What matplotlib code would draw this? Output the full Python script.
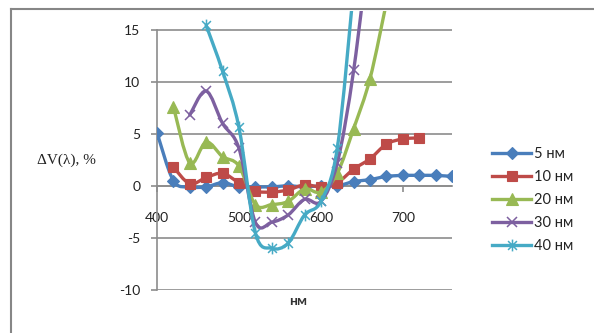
import numpy as np
import matplotlib
matplotlib.use("Agg")
import matplotlib.pyplot as plt
from matplotlib.path import Path
from matplotlib.patches import PathPatch
from matplotlib.lines import Line2D

plt.rcParams["axes.unicode_minus"] = False

# ---- data ----
wl_5 = [400, 420, 440, 460, 480, 500, 520, 540, 560, 580, 600, 620, 640, 660, 680, 700, 720, 740, 760]
v_5 = [5.1, 0.5, -0.1, -0.1, 0.3, -0.1, -0.1, -0.1, 0.0, -0.1, 0.0, 0.0, 0.4, 0.6, 0.9, 1.0, 1.0, 1.0, 0.9]

wl_10 = [420, 440, 460, 480, 500, 520, 540, 560, 580, 600, 620, 640, 660, 680, 700, 720]
v_10 = [1.8, 0.2, 0.8, 1.2, 0.3, -0.5, -0.6, -0.4, 0.1, -0.1, 0.3, 1.6, 2.6, 4.0, 4.5, 4.6]

wl_20 = [420, 440, 460, 480, 500, 520, 540, 560, 580, 600, 620, 640, 660, 680]
v_20 = [7.6, 2.2, 4.2, 2.8, 1.9, -1.8, -1.8, -1.5, -0.3, -0.6, 1.2, 5.5, 10.3, 17.6]

wl_30 = [440, 460, 480, 500, 520, 540, 560, 580, 600, 620, 640, 660]
v_30 = [6.8, 9.1, 6.0, 3.6, -3.5, -3.5, -2.8, -1.3, -1.5, 2.2, 11.1, 24.0]

wl_40 = [460, 480, 500, 520, 540, 560, 580, 600, 620, 640]
v_40 = [15.4, 11.0, 5.6, -4.5, -6.0, -5.5, -2.8, -1.5, 3.6, 19.0]

labels = ["5 нм", "10 нм", "20 нм", "30 нм", "40 нм"]
x_ticks = [400, 500, 600, 700]
y_ticks = [-10, -5, 0, 5, 10, 15]

# ---- style ----
colors = ["#4A7EBB", "#BE4B48", "#98B954", "#7D60A0", "#46AAC5"]
star = Path([(0, -1), (0, 1), (-0.75, -0.75), (0.75, 0.75), (-0.75, 0.75), (0.75, -0.75)],
            [Path.MOVETO, Path.LINETO, Path.MOVETO, Path.LINETO, Path.MOVETO, Path.LINETO])
markers = ["D", "s", "^", "x", star]
msizes = [6.5, 7.5, 8.0, 7.5, 8.5]
sans = ["Lato", "Open Sans", "DejaVu Sans"]
grey = "#8C8C8C"

W, H = 594, 333
fig = plt.figure(figsize=(W / 100, H / 100), dpi=100)

def fx(px):
    return px / W

def fy(py):
    return (H - py) / H

ax_left, ax_right = 157, 452
y_top_val, y_bot_val = 16.8, -10
ax_top_px, ax_bot_px = 10.8, 290
ax = fig.add_axes([fx(ax_left), fy(ax_bot_px), fx(ax_right) - fx(ax_left), fy(ax_top_px) - fy(ax_bot_px)])
ax.set_xlim(400, 760)
ax.set_ylim(y_bot_val, y_top_val)
ax.patch.set_alpha(0)


def smooth_path(x, y):
    pts = np.column_stack([x, y]).astype(float)
    n = len(pts)
    verts = [pts[0]]
    codes = [Path.MOVETO]
    for i in range(n - 1):
        p0 = pts[i - 1] if i > 0 else pts[i]
        p1 = pts[i]
        p2 = pts[i + 1]
        p3 = pts[i + 2] if i + 2 < n else pts[i + 1]
        c1 = p1 + (p2 - p0) / 6.0
        c2 = p2 - (p3 - p1) / 6.0
        verts += [c1, c2, p2]
        codes += [Path.CURVE4] * 3
    return Path(verts, codes)


series = [(wl_5, v_5), (wl_10, v_10), (wl_20, v_20), (wl_30, v_30), (wl_40, v_40)]
handles = []
for i, ((xs, ys), c, m, ms, lab) in enumerate(zip(series, colors, markers, msizes, labels)):
    patch = PathPatch(smooth_path(xs, ys), fill=False, edgecolor=c, lw=2.4,
                      zorder=3 + i * 0.1, capstyle="round", joinstyle="round")
    ax.add_patch(patch)
    open_marker = (m == "x") or (m is star)
    ax.plot(xs, ys, ls="none", marker=m, ms=ms, color=c,
            mec=c, mfc=("none" if open_marker else c),
            mew=(1.1 if open_marker else 0.8), zorder=3.05 + i * 0.1)
    handles.append(Line2D([], [], color=c, lw=2.4, marker=m, ms=ms, mec=c,
                          mfc=("none" if open_marker else c),
                          mew=(1.1 if open_marker else 0.8)))

# gridlines & axes
ax.set_yticks(y_ticks)
ax.set_xticks(x_ticks)
ax.yaxis.grid(True, color=grey, lw=1.2)
ax.set_axisbelow(True)
for s in ["top", "right"]:
    ax.spines[s].set_visible(False)
ax.spines["left"].set_bounds(-10, 15)
ax.spines["left"].set_color(grey)
ax.spines["left"].set_linewidth(1.2)
ax.spines["bottom"].set_position(("data", 0))
ax.spines["bottom"].set_color(grey)
ax.spines["bottom"].set_linewidth(1.2)
ax.tick_params(axis="y", direction="out", length=4, width=1.2, color=grey, pad=8,
               labelsize=10, labelcolor="#222222")
ax.tick_params(axis="x", direction="out", length=4, width=1.2, color=grey, pad=15,
               labelsize=10, labelcolor="#222222")
for t in ax.get_xticklabels() + ax.get_yticklabels():
    t.set_fontfamily(sans)

# legend
leg = fig.legend(handles, labels, loc="center left",
                 bbox_to_anchor=(fx(492), fy(200)), frameon=False,
                 prop={"family": sans, "size": 10.5}, handlelength=2.7,
                 handletextpad=0.2, labelspacing=0.62, borderpad=0, borderaxespad=0,
                 numpoints=1)
for t in leg.get_texts():
    t.set_color("#222222")

# axis titles
fig.text(fx(66), fy(160), "ΔV(λ), %", family=["Liberation Serif", "DejaVu Serif"],
         fontsize=11, ha="center", va="center", color="#222222")
fig.text(fx(298), fy(301), "нм", family=sans, fontsize=10, fontweight="bold",
         ha="center", va="center", color="#333333")

# chart border
fig.add_artist(Line2D([fx(11), fx(11)], [fy(9), fy(H + 2)], color="#868686", lw=1.5,
                      transform=fig.transFigure))
fig.add_artist(Line2D([fx(11), fx(W + 2)], [fy(9), fy(9)], color="#868686", lw=1.5,
                      transform=fig.transFigure))

fig.savefig("out.png", dpi=100)
